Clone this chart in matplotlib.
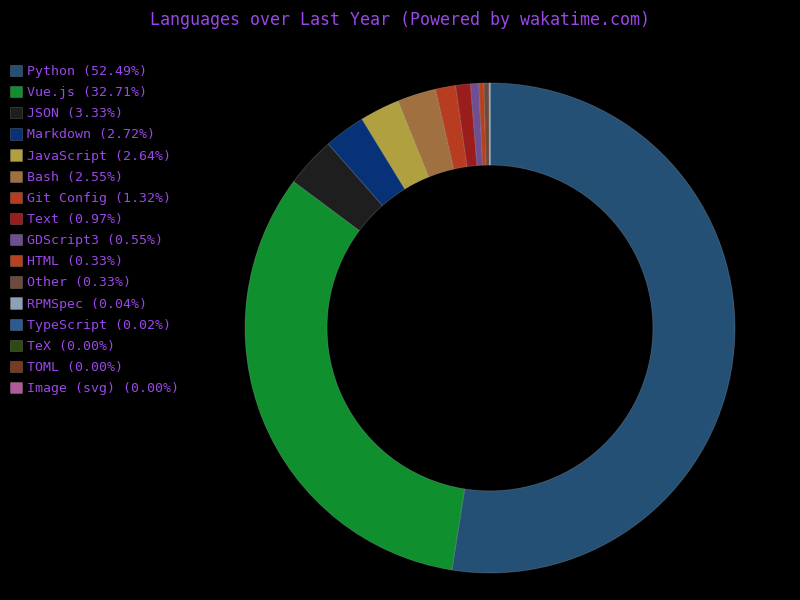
import matplotlib.pyplot as plt

languages = ['Python', 'Vue.js', 'JSON', 'Markdown', 'JavaScript', 'Bash',
             'Git Config', 'Text', 'GDScript3', 'HTML', 'Other', 'RPMSpec',
             'TypeScript', 'TeX', 'TOML', 'Image (svg)']
percents = [52.49, 32.71, 3.33, 2.72, 2.64, 2.55, 1.32, 0.97, 0.55, 0.33,
            0.33, 0.04, 0.02, 0.00, 0.00, 0.00]
colors = ['#255075', '#0f8f2d', '#1e1e1e', '#083278', '#b0a040', '#a07040',
          '#b83c20', '#9a1c1c', '#6e4f91', '#b8401c', '#6e4a3c', '#8ca0b8',
          '#2c5a94', '#2e4a14', '#7a3a20', '#b05a9a']

purple = '#9a48e8'
plt.rcParams['font.family'] = 'DejaVu Sans Mono'

fig = plt.figure(figsize=(8, 6), dpi=100, facecolor='black')
ax = fig.add_axes([0.30625, 0.045, 0.6125, 0.8167])
ax.set_facecolor('black')

wedges, _ = ax.pie(percents, colors=colors, startangle=90, counterclock=False,
                   wedgeprops=dict(width=0.335, edgecolor='#ffffff30', linewidth=0.6))
ax.set_xlim(-1, 1)
ax.set_ylim(-1, 1)
ax.set_aspect('equal')
ax.axis('off')

labels = [f'{n} ({p:.2f}%)' for n, p in zip(languages, percents)]
leg = fig.legend(wedges, labels, loc='upper left', bbox_to_anchor=(0.0125, 0.892),
                 frameon=False, fontsize=9.5, handlelength=0.9, handleheight=0.95,
                 handletextpad=0.4, labelspacing=0.6, labelcolor=purple,
                 borderpad=0, borderaxespad=0)

fig.text(0.5, 0.966, 'Languages over Last Year (Powered by wakatime.com)',
         ha='center', va='center', color=purple, fontsize=12)

fig.savefig('out.png', dpi=100, facecolor='black')
